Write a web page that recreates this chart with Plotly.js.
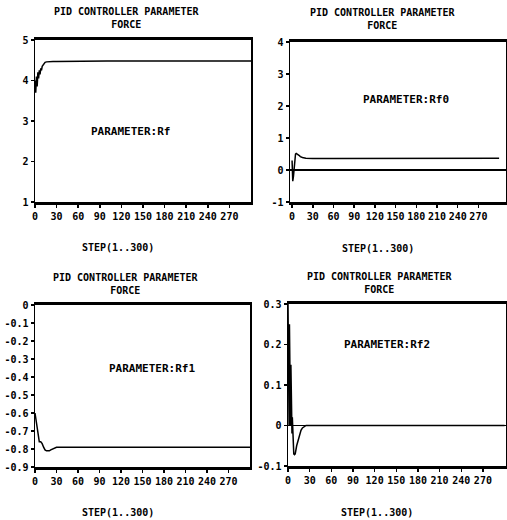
<!DOCTYPE html>
<html><head><meta charset="utf-8">
<script src="https://cdn.plot.ly/plotly-3.0.1.min.js"></script>
<style>html,body{margin:0;padding:0;background:#fff;}</style>
</head><body><div id="plot" style="width:507px;height:520px;"></div>
<script>
// ---- data ----
const titleText = "PID CONTROLLER PARAMETER<br>FORCE";
const xTitle = "STEP(1..300)";
const xTickVals = [0,30,60,90,120,150,180,210,240,270];
const xTickText = ["0","30","60","90","120","150","180","210","240","270"];

const y1TickVals = [1,2,3,4,5];
const y1TickText = ["1","2","3","4","5"];
const y2TickVals = [-1,0,1,2,3,4];
const y2TickText = ["-1","0","1","2","3","4"];
const y3TickVals = [0,-0.1,-0.2,-0.3,-0.4,-0.5,-0.6,-0.7,-0.8,-0.9];
const y3TickText = ["0","-0.1","-0.2","-0.3","-0.4","-0.5","-0.6","-0.7","-0.8","-0.9"];
const y4TickVals = [-0.1,0,0.1,0.2,0.3];
const y4TickText = ["-0.1","0","0.1","0.2","0.3"];

const rfX = [0,1,2,3,4,5,6,7,8,9,10,12,14,16,20,25,30,60,100,150,200,250,300];
const rfY = [4.0,3.7,4.1,3.85,4.2,4.05,4.25,4.15,4.3,4.25,4.35,4.42,4.45,4.46,4.47,4.47,4.47,4.48,4.48,4.48,4.48,4.48,4.48];

const rf0X = [0,1,2,3,4,5,6,8,10,12,15,20,30,60,100,150,200,250,300];
const rf0Y = [0.3,-0.35,-0.2,0.1,0.4,0.5,0.52,0.5,0.46,0.42,0.39,0.37,0.36,0.36,0.36,0.36,0.36,0.36,0.37];

const rf1X = [0,1,2,3,4,5,6,8,10,12,14,16,18,20,22,25,28,30,60,100,150,200,250,300];
const rf1Y = [-0.6,-0.63,-0.66,-0.68,-0.7,-0.74,-0.76,-0.76,-0.77,-0.79,-0.805,-0.81,-0.81,-0.81,-0.805,-0.8,-0.795,-0.79,-0.79,-0.79,-0.79,-0.79,-0.79,-0.79];

const rf2X = [0,0.5,1,1.5,2,2.5,3,3.5,4,4.5,5,5.5,6,7,8,9,10,12,14,16,18,20,25,30,60,100,150,200,250,300];
const rf2Y = [0.3,0.05,0.26,0.0,0.25,0.02,0.2,0.0,0.15,0.0,0.1,-0.02,0.02,-0.05,-0.07,-0.072,-0.07,-0.05,-0.035,-0.02,-0.012,-0.006,0,0,0,0,0,0,0,0];

const labels = ["PARAMETER:Rf","PARAMETER:Rf0","PARAMETER:Rf1","PARAMETER:Rf2"];

// ---- layout helpers ----
const W = 507, H = 520;
const px = v => v / W;
const py = v => 1 - v / H;
const FONT = "DejaVu Sans Mono";
const tf = {family: FONT, size: 10, color: "#000", weight: "bold"};

function xax(l, r, anchor, range) {
  return {domain:[px(l), px(r)], anchor:anchor, range:range, tickmode:"array", tickvals:xTickVals, ticktext:xTickText,
    showgrid:false, zeroline:false, showline:true, linecolor:"#000", linewidth:3, mirror:true,
    ticks:"outside", ticklen:3, tickwidth:1.5, tickcolor:"#000", tickfont:tf, fixedrange:true};
}
function yax(t, b, anchor, range, tv, tt, zl) {
  return {domain:[py(b), py(t)], anchor:anchor, range:range, tickmode:"array", tickvals:tv, ticktext:tt,
    showgrid:false, zeroline:zl, zerolinecolor:"#000", zerolinewidth:1.5,
    showline:true, linecolor:"#000", linewidth:1.5, mirror:true,
    ticks:"outside", ticklen:3, tickwidth:1.5, tickcolor:"#000", tickfont:tf, fixedrange:true};
}
const line = {color:"#000", width:1.5};
const traces = [
  {x:rfX, y:rfY, xaxis:"x", yaxis:"y", mode:"lines", line:line},
  {x:rf0X, y:rf0Y, xaxis:"x2", yaxis:"y2", mode:"lines", line:line},
  {x:rf1X, y:rf1Y, xaxis:"x3", yaxis:"y3", mode:"lines", line:line},
  {x:rf2X, y:rf2Y, xaxis:"x4", yaxis:"y4", mode:"lines", line:line}
];

const ann = [];
function addText(text, x, y, size) {
  ann.push({text:text, xref:"paper", yref:"paper", x:px(x), y:py(y), xanchor:"center", yanchor:"middle",
    showarrow:false, font:{family:FONT, size:size, color:"#000", weight:"bold"}});
}
addText(titleText, 126, 18, 10);
addText(titleText, 382, 19, 10);
addText(titleText, 125, 284, 10);
addText(titleText, 379, 283, 10);
addText(xTitle, 118, 247, 10);
addText(xTitle, 378, 248, 10);
addText(xTitle, 118, 512, 10);
addText(xTitle, 377, 512, 10);
addText(labels[0], 130, 131, 11);
addText(labels[1], 406, 99, 11);
addText(labels[2], 152, 368, 11);
addText(labels[3], 387, 344, 11);

const layout = {
  width:W, height:H, margin:{l:0,r:0,t:0,b:0}, paper_bgcolor:"#fff", plot_bgcolor:"#fff",
  showlegend:false,
  xaxis: xax(35, 251, "y", [0,300]),
  yaxis: yax(40, 202, "x", [1,5], y1TickVals, y1TickText, false),
  xaxis2: xax(290, 506, "y2", [-3,310]),
  yaxis2: yax(42, 202, "x2", [-1,4], y2TickVals, y2TickText, true),
  xaxis3: xax(35, 250, "y3", [0,300]),
  yaxis3: yax(305, 467, "x3", [-0.9,0], y3TickVals, y3TickText, false),
  xaxis4: xax(288, 506, "y4", [0,302]),
  yaxis4: yax(304, 466, "x4", [-0.1,0.3], y4TickVals, y4TickText, true),
  annotations: ann
};
Plotly.newPlot("plot", traces, layout, {displayModeBar:false, staticPlot:true});
</script></body></html>
